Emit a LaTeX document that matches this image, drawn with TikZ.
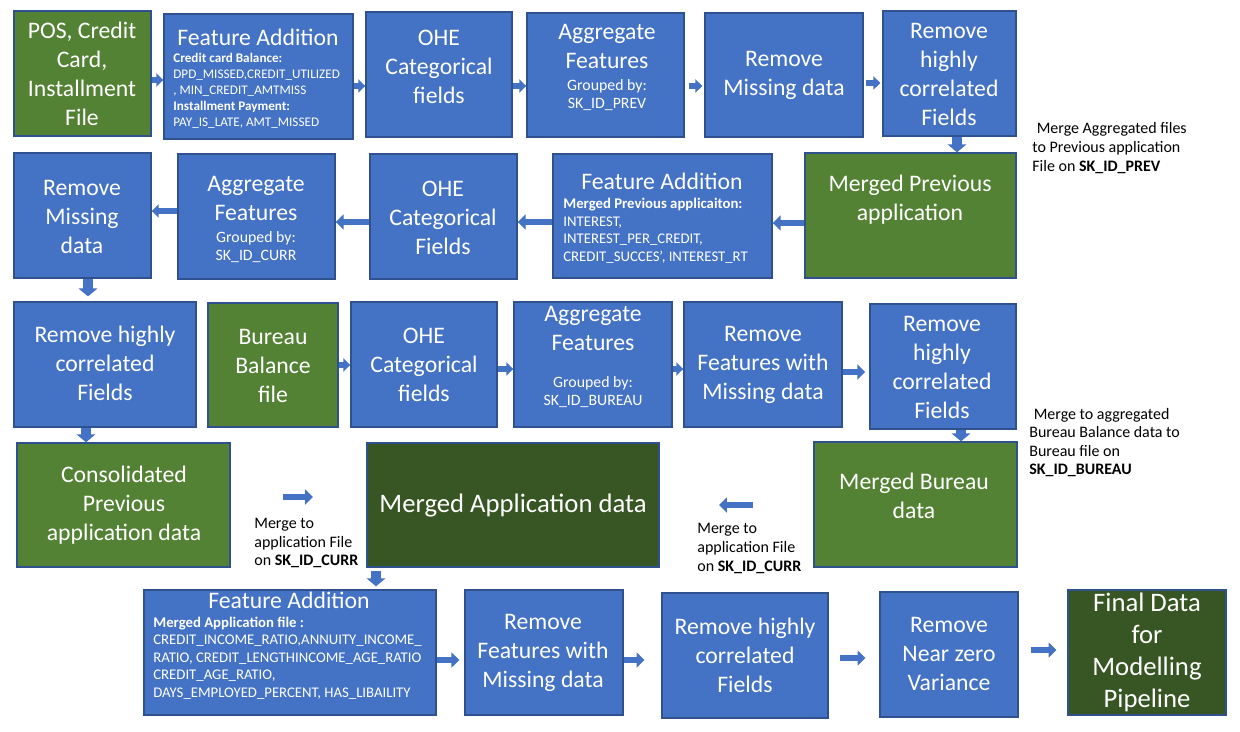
\documentclass[tikz,border=0pt]{standalone}
\usepackage{fontspec}
\setmainfont{Carlito}
\usetikzlibrary{fit,arrows.meta}
\definecolor{blu}{HTML}{4472C4}
\definecolor{bordc}{HTML}{2F528F}
\definecolor{grn}{HTML}{548235}
\definecolor{dgrn}{HTML}{375623}
\tikzset{
  box/.style={draw=bordc, line width=0.8pt, inner sep=0pt, fill=blu},
  gbox/.style={box, fill=grn},
  dbox/.style={box, fill=dgrn},
  big/.style={text=white, align=center, inner sep=0pt, font=\fontsize{13.5}{16.5}\selectfont},
  grp/.style={text=white, align=center, inner sep=0pt, font=\fontsize{9}{10.2}\selectfont},
  small/.style={text=white, align=left, inner sep=0pt, anchor=west, font=\fontsize{7.5}{9.1}\selectfont},
  smallb/.style={small, font=\fontsize{8.4}{10}\selectfont},
  ann/.style={text=black, align=left, inner sep=0pt, anchor=west, font=\fontsize{9.1}{10.6}\selectfont},
  arr/.style={draw=blu, line width=2.9pt, -{Triangle[length=4pt,width=7.5pt]}},
  warr/.style={draw=blu, line width=3.3pt, -{Triangle[length=4.5pt,width=8.5pt]}},
  darr/.style={draw=blu, line width=6pt, -{Triangle[length=4.5pt,width=10.5pt]}},
}
\begin{document}
\begin{tikzpicture}[x=0.02cm, y=-0.02cm]
\useasboundingbox (0,0) rectangle (1240,731);

% ---------- Row 1
\node[gbox, fit={(14,11)(151,136)}] (pos) {};
\node[box, fit={(164,14)(353,139)}] (fa1) {};
\node[box, fit={(366,12)(512,137)}] (ohe1) {};
\node[box, fit={(527,13)(684,137)}] (agg1) {};
\node[box, fit={(705,13)(863,137)}] (rm1) {};
\node[box, fit={(883,11)(1016,136)}] (rhc1) {};
\node[gbox, fit={(805,153)(1016,278)}] (mpa) {};
% ---------- Row 2
\node[box, fit={(14,153)(151,278)}] (rm2) {};
\node[box, fit={(178,154)(335,279)}] (agg2) {};
\node[box, fit={(370,154)(517,279)}] (ohe2) {};
\node[box, fit={(553,154)(772,278)}] (fa2) {};
% ---------- Row 3
\node[box, fit={(14,302)(196,427)}] (rhc2) {};
\node[gbox, fit={(208,303)(338,427)}] (bb) {};
\node[box, fit={(351,302)(497,427)}] (ohe3) {};
\node[box, fit={(514,302)(672,427)}] (agg3) {};
\node[box, fit={(684,302)(842,427)}] (rfm3) {};
\node[box, fit={(870,304)(1016,429)}] (rhc3) {};
% ---------- Row 4
\node[gbox, fit={(814,442)(1017,567)}] (mbd) {};
\node[gbox, fit={(17,443)(230,567)}] (cons) {};
\node[dbox, fit={(367,443)(659,567)}] (mad) {};
% ---------- Row 5
\node[box, fit={(144,590)(436,715)}] (fa3) {};
\node[box, fit={(465,590)(623,715)}] (rfm5) {};
\node[box, fit={(662,593)(828,718)}] (rhc5) {};
\node[box, fit={(880,592)(1018,717)}] (nzv) {};
\node[dbox, fit={(1068,590)(1226,715)}] (fin) {};

% ---------- Texts
\node[big] (tpos) at (82,74) {POS, Credit\\Card,\\Installment\\File};
\node[big] (tfa1) at (258,37) {Feature Addition};
\node[small] (bfa1) at (173,91) {\textbf{Credit card Balance:}\\DPD\_MISSED,CREDIT\_UTILIZED\\, MIN\_CREDIT\_AMTMISS\\\textbf{Installment Payment:}\\PAY\_IS\_LATE, AMT\_MISSED};
\node[big] (tohe1) at (439,67) {OHE\\Categorical\\fields};
\node[big] (tagg1) at (607,46.5) {Aggregate\\Features};
\node[grp] (gagg1) at (607,95) {Grouped by:\\SK\_ID\_PREV};
\node[big] (trm1) at (784,75) {Remove\\Missing data};
\node[big] (trhc1) at (949,74) {Remove\\highly\\correlated\\Fields};
\node[big] (tmpa) at (910,200) {Merged Previous\\application};
\node[ann] (ann1) at (1032,148) {\hspace{2.5pt}Merge Aggregated files\\to Previous application\\File on \textbf{SK\_ID\_PREV}};

\node[big] (trm2) at (82,217) {Remove\\Missing\\data};
\node[big] (tagg2) at (256,198) {Aggregate\\Features};
\node[grp] (gagg2) at (256,247.5) {Grouped by:\\SK\_ID\_CURR};
\node[big] (tohe2) at (443,218) {OHE\\Categorical\\Fields};
\node[big] (tfa2) at (662,181) {Feature Addition};
\node[smallb] (bfa2) at (563,231) {\textbf{Merged Previous applicaiton:}\\INTEREST,\\INTEREST\_PER\_CREDIT,\\CREDIT\_SUCCES', INTEREST\_RT};

\node[big] (trhc2) at (105,363.5) {Remove highly\\correlated\\Fields};
\node[big] (tbb) at (273,365.5) {Bureau\\Balance\\file};
\node[big] (tohe3) at (424,364.5) {OHE\\Categorical\\fields};
\node[big] (tagg3) at (593,328) {Aggregate\\Features};
\node[grp] (gagg3) at (593,392.5) {Grouped by:\\SK\_ID\_BUREAU};
\node[big] (trfm3) at (763,364.5) {Remove\\Features with\\Missing data};
\node[big] (trhc3) at (942,367) {Remove\\highly\\correlated\\Fields};
\node[big] (tmbd) at (914,495.5) {Merged Bureau\\data};
\node[ann] (ann2) at (1029,442.5) {\hspace{2.5pt}Merge to aggregated\\Bureau Balance data to\\Bureau file on\\\textbf{SK\_ID\_BUREAU}};

\node[big] (tcons) at (124,505.5) {Consolidated\\Previous\\application data};
\node[big, font=\fontsize{15.2}{18}\selectfont] (tmad) at (513,506) {Merged Application data};
\node[ann] (ann3) at (254,543) {Merge to\\application File\\on \textbf{SK\_ID\_CURR}};
\node[ann] (ann4) at (697,548.5) {Merge to\\application File\\on \textbf{SK\_ID\_CURR}};

\node[big] (tfa3) at (289,600) {Feature Addition};
\node[smallb] (bfa3) at (153,658) {\textbf{Merged Application file :}\\CREDIT\_INCOME\_RATIO,ANNUITY\_INCOME\_\\RATIO, CREDIT\_LENGTHINCOME\_AGE\_RATIO\\CREDIT\_AGE\_RATIO,\\DAYS\_EMPLOYED\_PERCENT, HAS\_LIBAILITY};
\node[big] (trfm5) at (543,652.5) {Remove\\Features with\\Missing data};
\node[big] (trhc5) at (745,655.5) {Remove highly\\correlated\\Fields};
\node[big] (tnzv) at (949,654) {Remove\\Near zero\\Variance};
\node[big, font=\fontsize{15.2}{18.1}\selectfont] (tfin) at (1147,652.5) {Final Data\\for\\Modelling\\Pipeline};

% ---------- Arrows
\draw[arr] (pos.east |- 0,80) -- (fa1.west |- 0,80);
\draw[arr] (fa1.east |- 0,86) -- (ohe1.west |- 0,86);
\draw[arr] (ohe1.east |- 0,86) -- (agg1.west |- 0,86);
\draw[arr, shorten <=2.3pt, shorten >=1.1pt] (agg1.east |- 0,86) -- (rm1.west |- 0,86);
\draw[arr, shorten <=1.1pt, shorten >=1.1pt] (rm1.east |- 0,83) -- (rhc1.west |- 0,83);
\draw[darr] (rhc1.south -| 957,0) -- (mpa.north -| 957,0);

\draw[warr] (mpa.west |- 0,223) -- (fa2.east |- 0,223);
\draw[warr] (fa2.west |- 0,222) -- (ohe2.east |- 0,222);
\draw[warr] (ohe2.west |- 0,222) -- (agg2.east |- 0,222);
\draw[arr] (agg2.west |- 0,211) -- (rm2.east |- 0,211);
\draw[darr, shorten >=2.8pt] (rm2.south -| 88,0) -- (rhc2.north -| 88,0);

\draw[darr] (rhc2.south -| 86,0) -- (cons.north -| 86,0);
\draw[arr] (bb.east |- 0,365) -- (ohe3.west |- 0,365);
\draw[arr] (ohe3.east |- 0,369) -- (agg3.west |- 0,369);
\draw[arr] (agg3.east |- 0,369) -- (rfm3.west |- 0,369);
\draw[warr, shorten >=2.3pt] (rfm3.east |- 0,372) -- (rhc3.west |- 0,372);
\draw[darr] (rhc3.south -| 961,0) -- (mbd.north -| 961,0);

\coordinate (m1s) at (283,497);
\coordinate (m1e) at (313,497);
\draw[warr] (m1s) -- (m1e);
\coordinate (m2s) at (753,505);
\coordinate (m2e) at (719,505);
\draw[warr] (m2s) -- (m2e);
\draw[darr, shorten <=1.7pt, shorten >=1.7pt] (mad.south -| 376,0) -- (fa3.north -| 376,0);

\draw[warr, shorten >=2.8pt] (fa3.east |- 0,660) -- (rfm5.west |- 0,660);
\draw[warr, shorten >=9.6pt] (rfm5.east |- 0,660) -- (rhc5.west |- 0,660);
\draw[warr, shorten <=6.2pt, shorten >=7.9pt] (rhc5.east |- 0,658) -- (nzv.west |- 0,658);
\draw[warr, shorten <=6.8pt, shorten >=6.2pt] (nzv.east |- 0,650) -- (fin.west |- 0,650);
\end{tikzpicture}
\end{document}
